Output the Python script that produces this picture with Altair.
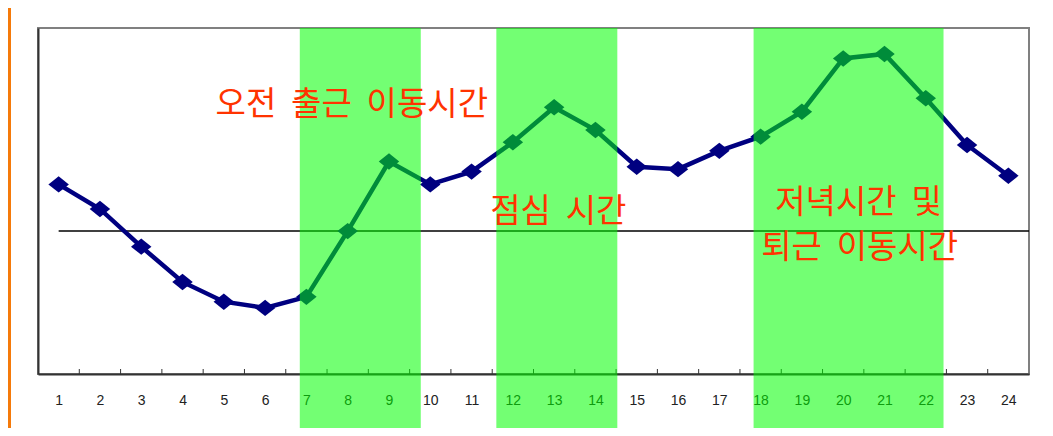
import altair as alt
import pandas as pd

# ---- data ----
hours = [1, 2, 3, 4, 5, 6, 7, 8, 9, 10, 11, 12, 13, 14, 15, 16, 17, 18, 19, 20, 21, 22, 23, 24]
values = [54.8, 47.7, 36.8, 26.6, 20.9, 19.1, 22.3, 41.3, 61.4, 54.8, 58.5, 67.0,
          77.1, 70.5, 59.9, 59.2, 64.5, 68.6, 75.8, 91.2, 92.5, 79.7, 66.2, 57.3]
average_value = [41.3]
average_from = [1]
average_to = [24.5]
band_start = [6.84, 11.60, 17.83]
band_end = [9.77, 14.53, 22.43]
tick_boundaries = [1.5, 2.5, 3.5, 4.5, 5.5, 6.5, 7.5, 8.5, 9.5, 10.5, 11.5, 12.5,
                   13.5, 14.5, 15.5, 16.5, 17.5, 18.5, 19.5, 20.5, 21.5, 22.5, 23.5]
label_texts = ["오전 \u00a0출근 \u00a0이동시간", "점심 \u00a0시간",
               "저녁시간 \u00a0및", "퇴근 \u00a0이동시간"]
label_x = [8.1, 13.1, 20.37, 20.4]
label_y = [77.7, 46.8, 49.4, 36.5]

W, H = 991, 346
PL, PT, PR, PB = 30, 20, 14, 54

df = pd.DataFrame({"hour": hours, "value": values})
avg_df = pd.DataFrame({"x": average_from, "x2": average_to, "y": average_value})
band_df = pd.DataFrame({"start": band_start, "end": band_end})
tick_df = pd.DataFrame({"b": tick_boundaries})
text_df = pd.DataFrame({"t": label_texts, "x": label_x, "y": label_y})
one = pd.DataFrame({"k": [0]})

xs = alt.Scale(domain=[0.5, 24.5], nice=False, zero=False)
ys = alt.Scale(domain=[0, 100], nice=False, zero=False)

x_axis = alt.Axis(values=hours, format="d", title=None, ticks=False, grid=False,
                  domainColor="#333333", domainWidth=2, labelFontSize=14,
                  labelFont="Liberation Sans", labelColor="#222222",
                  labelPadding=26, labelBaseline="middle", labelFlush=False)
y_axis = alt.Axis(labels=False, ticks=False, grid=False, title=None,
                  domainColor="#333333", domainWidth=2)

orange = alt.Chart(one).mark_rect(color="#F57A0A").encode(
    x=alt.value(-PL), x2=alt.value(-PL + 3), y=alt.value(-PT), y2=alt.value(H + PB))

avg = alt.Chart(avg_df).mark_rule(color="black", strokeWidth=1.5).encode(
    x=alt.X("x:Q", scale=xs, axis=x_axis), x2="x2:Q",
    y=alt.Y("y:Q", scale=ys, axis=y_axis))

line = alt.Chart(df).mark_line(color="#000080", strokeWidth=4.5).encode(
    x=alt.X("hour:Q", scale=xs), y=alt.Y("value:Q", scale=ys))

pts = alt.Chart(df).mark_point(filled=True, opacity=1, color="#000080",
                               shape="M-1,0L0,-0.8L1,0L0,0.8Z", size=420).encode(
    x=alt.X("hour:Q", scale=xs), y=alt.Y("value:Q", scale=ys))

ticks = alt.Chart(tick_df).mark_rule(color="#333333", strokeWidth=1).encode(
    x=alt.X("b:Q", scale=xs), y=alt.value(H - 5), y2=alt.value(H))

bands = alt.Chart(band_df).mark_rect(color="#00FF00", opacity=0.55).encode(
    x=alt.X("start:Q", scale=xs), x2="end:Q", y=alt.value(0), y2=alt.value(H + PB))

texts = alt.Chart(text_df).mark_text(font="Noto Sans CJK KR", fontSize=33,
                                     color="#FF3300", baseline="middle",
                                     align="center").encode(
    x=alt.X("x:Q", scale=xs), y=alt.Y("y:Q", scale=ys), text="t:N")

chart = alt.layer(orange, avg, line, pts, ticks, bands, texts).properties(
    width=W, height=H,
    autosize=alt.AutoSizeParams(type="none"),
    padding={"left": PL, "top": PT, "right": PR, "bottom": PB},
    background="white",
).configure_view(stroke="#808080", strokeWidth=2)

chart.save("out.html", embed_options={"renderer": "svg", "actions": False})
